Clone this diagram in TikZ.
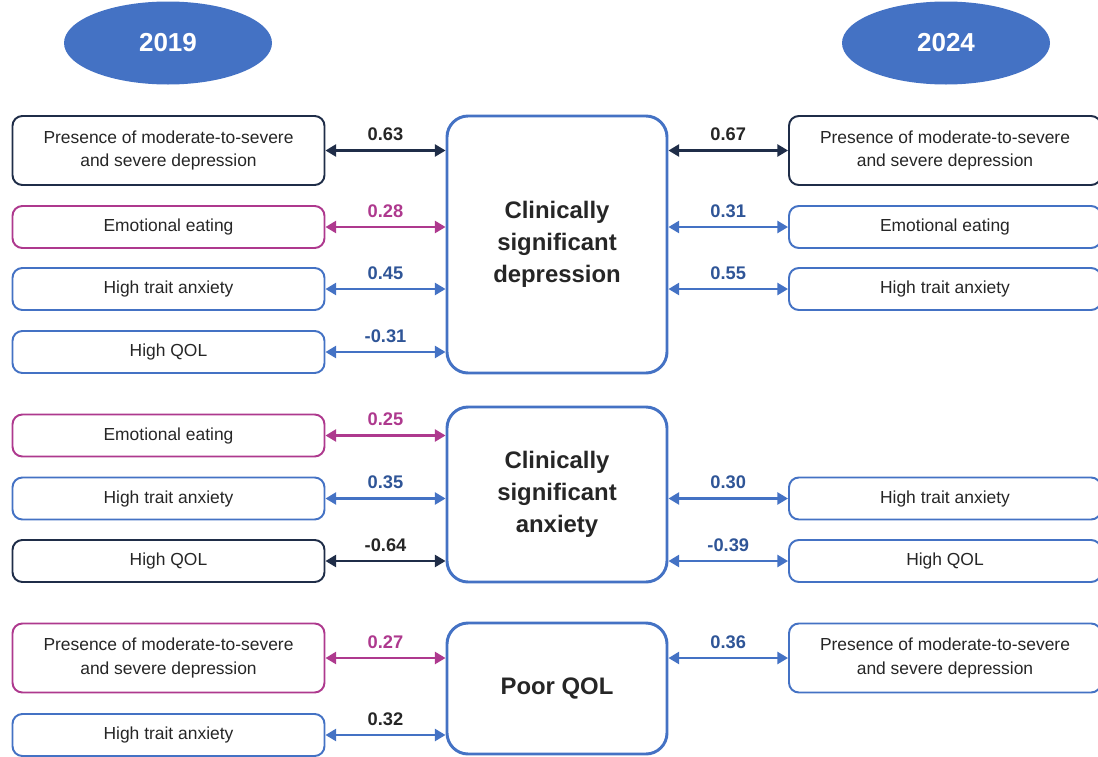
\documentclass[tikz,border=0pt]{standalone}
\usepackage{fontspec}
\setmainfont{Liberation Sans}
\definecolor{navy}{RGB}{31,45,72}
\definecolor{midblue}{RGB}{68,114,196}
\definecolor{plum}{RGB}{174,57,142}
\definecolor{numblue}{RGB}{47,85,151}
\definecolor{ink}{RGB}{38,38,38}
\usetikzlibrary{arrows.meta, positioning, shapes.geometric}

\begin{document}
\begin{tikzpicture}[
    item/.style={draw=midblue, line width=1.4pt, rounded corners=7pt,
      minimum width=7.8cm, minimum height=1.05cm, inner sep=2pt,
      text=ink, font=\fontsize{12.4}{17}\selectfont, align=center},
    twoline/.style={minimum height=1.725cm},
    core/.style={draw=midblue, line width=2.1pt, rounded corners=15pt,
      minimum width=5.5cm, text=ink,
      font=\fontsize{17}{22.7}\selectfont\bfseries, align=center},
    year/.style={ellipse, fill=midblue, minimum width=5.2cm,
      minimum height=2.075cm, text=white,
      font=\fontsize{18.5}{22}\selectfont\bfseries},
    link/.style={midblue, line width=1.6pt,
      {Triangle[length=7.5pt,width=8.5pt]}-{Triangle[length=7.5pt,width=8.5pt]}},
    lbl/.style={above=6pt, inner sep=0pt, text=numblue,
      font=\fontsize{13}{15}\selectfont\bfseries},
  ]
    \useasboundingbox (0,0) rectangle (27.45,-18.9);

    % years
    \node[year] (y1) at (4.2, -1.075) {2019};
    \node[year] (y2) at (23.65, -1.075) {2024};

    % centre boxes
    \node[core, minimum height=6.425cm] (c1) at (13.925, -6.1125) {Clinically\\significant\\depression};
    \node[core, minimum height=4.375cm] (c2) at (13.925, -12.3625) {Clinically\\significant\\anxiety};
    \node[core, minimum height=3.275cm] (c3) at (13.925, -17.2125) {Poor QOL};

    % depression, 2019
    \node[item, twoline, draw=navy] (a1) at (4.2125, -3.7625) {Presence of moderate-to-severe\\and severe depression};
    \node[item, draw=plum] (a2) at (4.2125, -5.675) {Emotional eating};
    \node[item] (a3) at (4.2125, -7.225) {High trait anxiety};
    \node[item] (a4) at (4.2125, -8.8) {High QOL};

    % depression, 2024
    \node[item, twoline, draw=navy] (b1) at (23.625, -3.7625) {Presence of moderate-to-severe\\and severe depression};
    \node[item] (b2) at (23.625, -5.675) {Emotional eating};
    \node[item] (b3) at (23.625, -7.225) {High trait anxiety};

    % anxiety
    \node[item, draw=plum] (a5) at (4.2125, -10.8875) {Emotional eating};
    \node[item] (a6) at (4.2125, -12.4625) {High trait anxiety};
    \node[item, draw=navy] (a7) at (4.2125, -14.025) {High QOL};
    \node[item] (b4) at (23.625, -12.4625) {High trait anxiety};
    \node[item] (b5) at (23.625, -14.025) {High QOL};

    % poor QOL
    \node[item, twoline, draw=plum] (a8) at (4.2125, -16.45) {Presence of moderate-to-severe\\and severe depression};
    \node[item] (a9) at (4.2125, -18.375) {High trait anxiety};
    \node[item, twoline] (b6) at (23.625, -16.45) {Presence of moderate-to-severe\\and severe depression};

    % links, 2019
    \draw[link, navy] (a1.east) -- (a1.east -| c1.west) node[midway, lbl, text=ink] {0.63};
    \draw[link, plum] (a2.east) -- (a2.east -| c1.west) node[midway, lbl, text=plum] {0.28};
    \draw[link] (a3.east) -- (a3.east -| c1.west) node[midway, lbl] {0.45};
    \draw[link] (a4.east) -- (a4.east -| c1.west) node[midway, lbl] {-0.31};
    \draw[link, plum] (a5.east) -- (a5.east -| c2.west) node[midway, lbl, text=plum] {0.25};
    \draw[link] (a6.east) -- (a6.east -| c2.west) node[midway, lbl] {0.35};
    \draw[link, navy] (a7.east) -- (a7.east -| c2.west) node[midway, lbl, text=ink] {-0.64};
    \draw[link, plum] (a8.east) -- (a8.east -| c3.west) node[midway, lbl, text=plum] {0.27};
    \draw[link] (a9.east) -- (a9.east -| c3.west) node[midway, lbl, text=ink] {0.32};

    % links, 2024
    \draw[link, navy] (b1.west -| c1.east) -- (b1.west) node[midway, lbl, text=ink] {0.67};
    \draw[link] (b2.west -| c1.east) -- (b2.west) node[midway, lbl] {0.31};
    \draw[link] (b3.west -| c1.east) -- (b3.west) node[midway, lbl] {0.55};
    \draw[link] (b4.west -| c2.east) -- (b4.west) node[midway, lbl] {0.30};
    \draw[link] (b5.west -| c2.east) -- (b5.west) node[midway, lbl] {-0.39};
    \draw[link] (b6.west -| c3.east) -- (b6.west) node[midway, lbl] {0.36};
  \end{tikzpicture}
\end{document}
